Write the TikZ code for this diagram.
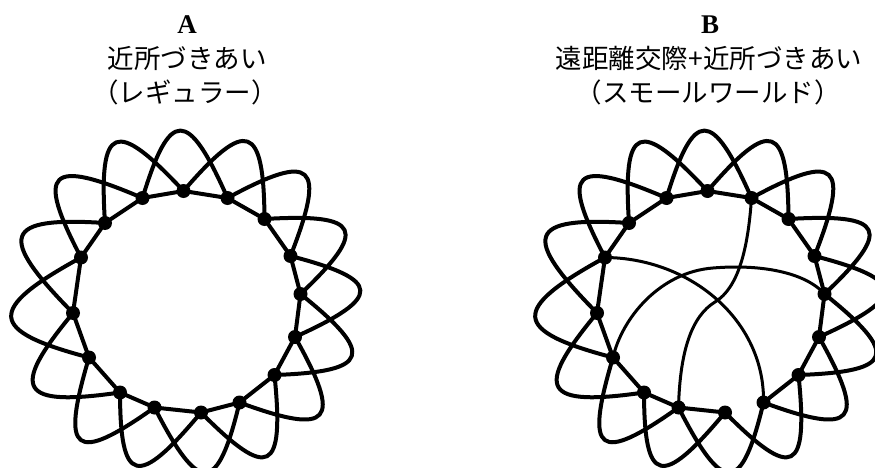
\documentclass[tikz,border=0pt]{standalone}
\usepackage{fontspec}
\setmainfont{Liberation Serif}
\newfontfamily\jp{Noto Sans CJK JP}
\usetikzlibrary{calc}
\tikzset{
  dot/.style={circle,fill=black,draw=none,inner sep=0pt,minimum size=14pt},
  edge/.style={line width=4pt,line cap=round,line join=round},
  chord/.style={line width=3pt,line cap=round,line join=round},
  title/.style={font=\fontsize{27}{27}\selectfont\bfseries,inner sep=0pt},
  jptext/.style={font=\jp\fontsize{26.5}{26.5}\selectfont,inner sep=0pt},
}
\begin{document}
\begin{tikzpicture}[x=1pt,y=-1pt]
\useasboundingbox (0,0) rectangle (875,468);
\clip (0,0) rectangle (875,468);
% titles
\node[title] (ta) at (187,25) {A};
\node[jptext] (ta2) at (187,58) {近所づきあい};
\node[jptext] (ta3) at (185,92) {（レギュラー）};
\node[title] (tb) at (710,25) {B};
\node[jptext] (tb2) at (709,58) {遠距離交際+近所づきあい};
\node[jptext] (tb3) at (708,92) {（スモールワールド）};
% centres
\coordinate (ca) at (190,302);
\coordinate (cb) at (714,302);
% nodes
\foreach [count=\i] \x/\y in {142.5/198,183.5/191,227.5/198,264.5/219,290.5/256,300.5/294,295/337,274.5/375,239.5/402.5,201/412.5,154.5/407.5,120/392.5,89/357.5,73/313,81/257.5,105/223}{
  \node[dot] (a\i) at (\x,\y) {};
  \node[dot] (b\i) at (\x+524,\y) {};
}
% ring edges and second-neighbour loops
\foreach \p/\c in {a/ca,b/cb}{
  \foreach \i in {1,...,16}{
    \pgfmathtruncatemacro\j{mod(\i,16)+1}
    \pgfmathtruncatemacro\k{mod(\i+1,16)+1}
    \coordinate (\p m\i l) at ($(\p\j.center)!0.12!(\p\i.center)$);
    \coordinate (\p m\i r) at ($(\p\j.center)!0.12!(\p\k.center)$);
    \draw[edge] (\p\i.center) .. controls ($(\c)!1.76!(\p m\i l)$) and ($(\c)!1.76!(\p m\i r)$) .. (\p\k.center);
  }
}
\foreach \i in {1,...,16}{
  \pgfmathtruncatemacro\j{mod(\i,16)+1}
  \draw[edge] (a\i.center) -- (a\j.center);
  \ifnum\i=9\relax\else
    \draw[edge] (b\i.center) -- (b\j.center);
  \fi
}
% long-range links
\draw[chord] (b3.center) .. controls (748,250) and (738,288) .. (715,302)
  .. controls (692,316) and (680,350) .. (b11.center);
\draw[chord] (b15.center) .. controls (690,258) and (765,320) .. (b9.center);
\draw[chord] (b13.center) .. controls (622,318) and (660,272) .. (713,268)
  .. controls (760,264) and (805,272) .. (b6.center);
\end{tikzpicture}
\end{document}
